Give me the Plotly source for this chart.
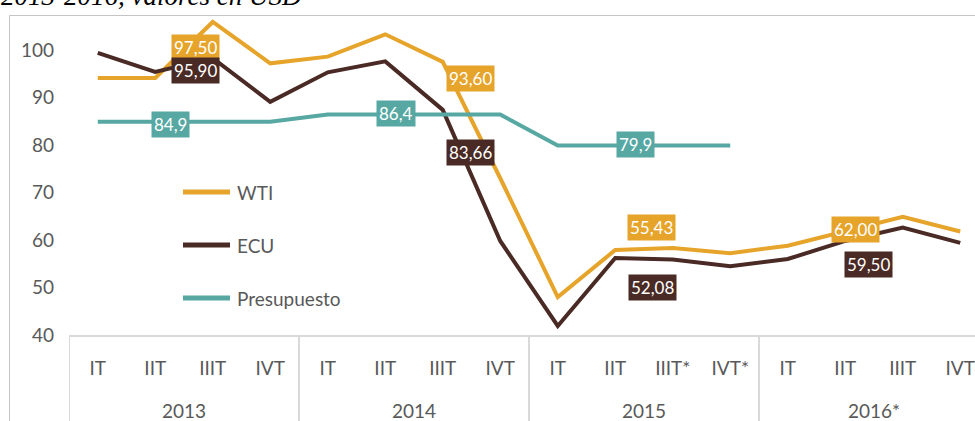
import plotly.graph_objects as go

# precios del petroleo por trimestre, USD por barril
years = ["2013", "2014", "2015", "2016*"]
quarters = ["IT", "IIT", "IIIT", "IVT", "IT", "IIT", "IIIT", "IVT",
            "IT", "IIT", "IIIT*", "IVT*", "IT", "IIT", "IIIT", "IVT"]
wti = [94.1, 94.1, 105.9, 97.2, 98.6, 103.3, 97.5, 73.0,
       48.0, 57.9, 58.3, 57.2, 58.8, 61.8, 64.9, 61.8]
ecu = [99.4, 95.4, 98.3, 89.1, 95.3, 97.6, 87.4, 59.8,
       41.9, 56.2, 55.9, 54.5, 56.0, 59.8, 62.6, 59.4]
presupuesto = [84.9, 84.9, 84.9, 84.9, 86.4, 86.4, 86.4, 86.4,
               79.9, 79.9, 79.9, 79.9, None, None, None, None]
label_text = ["97,50", "95,90", "84,9", "86,4", "93,60", "83,66",
              "79,9", "55,43", "52,08", "62,00", "59,50"]
label_series = ["WTI", "ECU", "Presupuesto", "Presupuesto", "WTI", "ECU",
                "Presupuesto", "WTI", "ECU", "WTI", "ECU"]

COL = {"WTI": "#E6A42B", "ECU": "#4A2A24", "Presupuesto": "#57A8A3"}
FONT = "Lato"
GREY = "#595959"

# layout in pixels
W, H = 975, 421
L, R, T, B = 69, 975, 17, 335
PX_PER_UNIT = 4.75


def px(x):
    return (x - L) / (R - L)


def py(y):
    return (B - y) / (B - T)


# label placement (category position, value position)
label_pos = [(1.70, 100.6), (1.70, 95.6), (1.27, 84.3), (5.18, 86.6),
             (6.49, 94.1), (6.49, 78.5), (9.36, 80.2), (9.63, 62.7),
             (9.65, 49.9), (13.18, 62.3), (13.41, 54.9)]

x = list(range(len(quarters)))
fig = go.Figure()
for name, vals in [("WTI", wti), ("ECU", ecu), ("Presupuesto", presupuesto)]:
    fig.add_trace(go.Scatter(x=x, y=vals, name=name, mode="lines",
                             line=dict(color=COL[name], width=4),
                             showlegend=False))

# etiquetas de datos
for txt, s, (lx, ly) in zip(label_text, label_series, label_pos):
    fig.add_annotation(x=lx, y=ly, xref="x", yref="y", text=txt,
                       showarrow=False, bgcolor=COL[s], borderpad=2,
                       font=dict(family=FONT, size=17, color="white"))

# leyenda dibujada a mano
for i, name in enumerate(["WTI", "ECU", "Presupuesto"]):
    yy = 192 + 53 * i
    fig.add_shape(type="line", xref="paper", yref="paper",
                  x0=px(183), x1=px(230), y0=py(yy), y1=py(yy),
                  line=dict(color=COL[name], width=5))
    fig.add_annotation(x=px(235), y=py(yy), xref="paper", yref="paper",
                       xanchor="left", yanchor="middle", text=name,
                       showarrow=False,
                       font=dict(family=FONT, size=19, color=GREY))

# separadores de anios y etiquetas de anio
for k, yr in enumerate(years):
    fig.add_shape(type="line", xref="x", yref="paper",
                  x0=4 * k - 0.5, x1=4 * k - 0.5, y0=0, y1=py(H + 5),
                  line=dict(color="#d9d9d9", width=2))
    fig.add_annotation(x=4 * k + 1.5, y=py(410), xref="x", yref="paper",
                       text=yr, showarrow=False, yanchor="middle",
                       font=dict(family=FONT, size=19, color=GREY))

# marco del grafico
fig.add_shape(type="rect", xref="paper", yref="paper",
              x0=px(9.5), x1=px(1200), y0=py(15.5), y1=py(600),
              line=dict(color="#c4c4c4", width=1))

# titulo (recortado arriba)
fig.add_annotation(x=px(-1), y=py(13), xref="paper", yref="paper",
                   xanchor="left", yanchor="bottom",
                   text="<i>2013-2016, valores en USD</i>", showarrow=False,
                   font=dict(family="Liberation Serif", size=27, color="black"))

fig.update_layout(
    width=W, height=H,
    margin=dict(l=L, r=W - R, t=T, b=H - B, autoexpand=False),
    plot_bgcolor="white", paper_bgcolor="white",
    font=dict(family=FONT, size=19, color=GREY),
    xaxis=dict(range=[-0.5, (R - L) / 57.5 - 0.5], tickvals=x,
               ticktext=quarters, showgrid=False, zeroline=False,
               showline=True, linecolor="#d9d9d9", linewidth=2,
               ticks="", ticklabelstandoff=15, automargin=False,
               tickfont=dict(family=FONT, size=19, color=GREY)),
    yaxis=dict(range=[40, 40 + (B - T) / PX_PER_UNIT], tickvals=[40, 50, 60, 70, 80, 90, 100],
               showgrid=False, zeroline=False, showline=False, ticks="",
               ticklabelstandoff=14, automargin=False,
               tickfont=dict(family=FONT, size=19, color=GREY)),
)

# quitar el margen del body para que la figura llene la ventana
fig.write_html("out.html", config={"displayModeBar": False},
               post_script="document.body.style.margin='0px';")
